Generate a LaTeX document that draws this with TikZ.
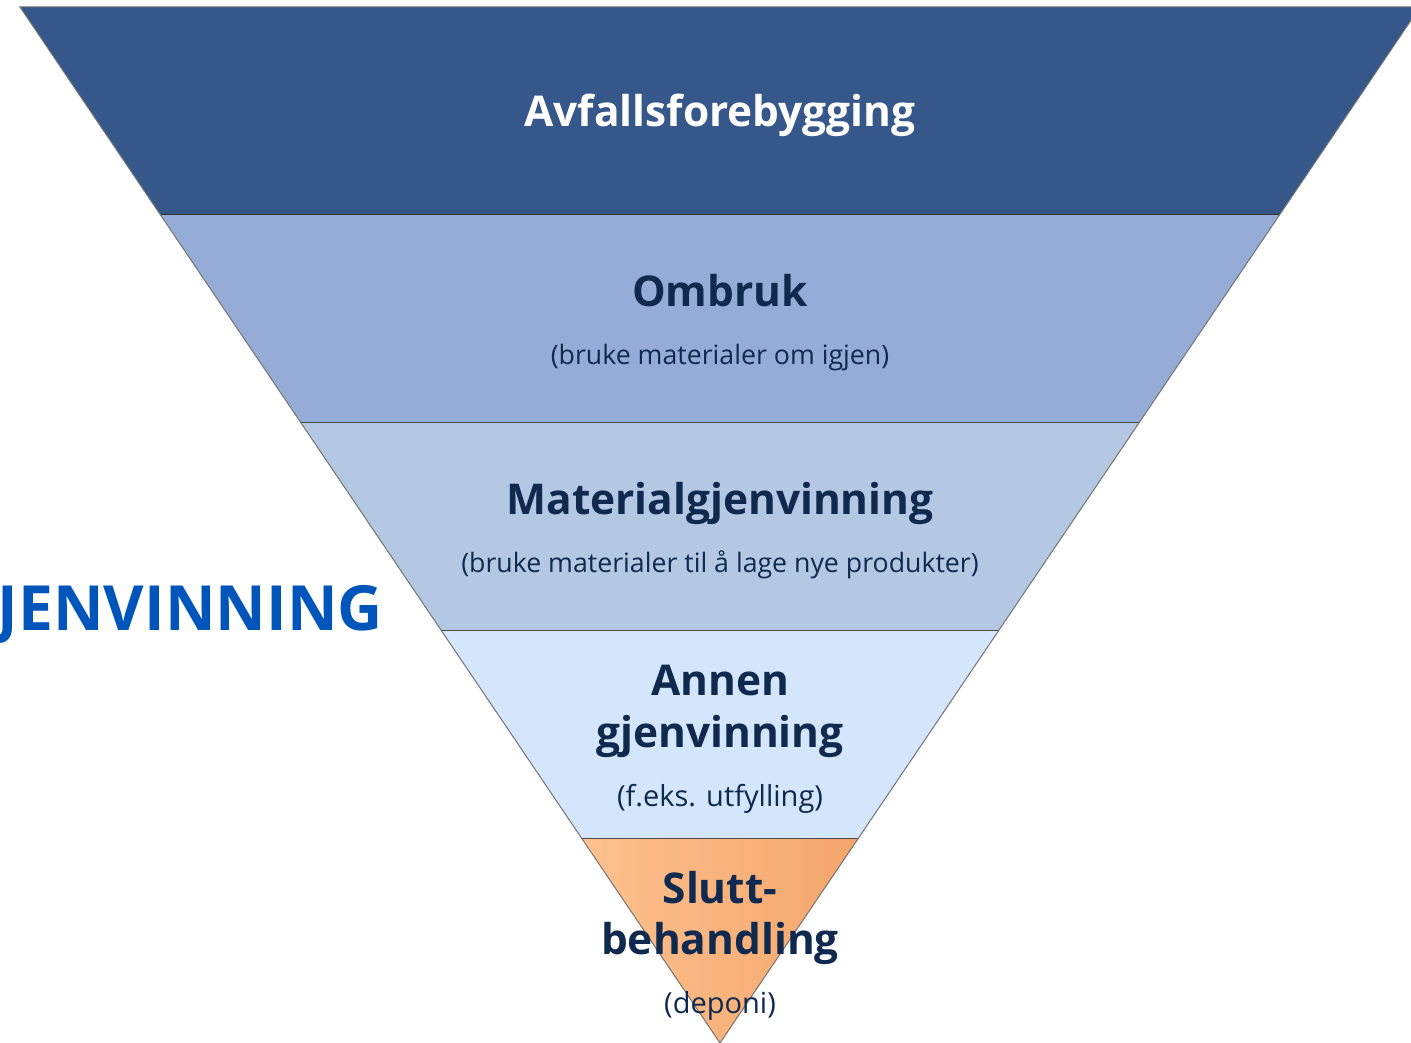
\documentclass[tikz,border=0pt]{standalone}
\usepackage{fontspec}
\setmainfont{Open Sans}
\definecolor{bandA}{HTML}{36578A}
\definecolor{bandB}{HTML}{95ADD6}
\definecolor{bandC}{HTML}{B5C8E3}
\definecolor{bandD}{HTML}{D4E6FC}
\definecolor{orangeTop}{HTML}{FDC18F}
\definecolor{orangeBot}{HTML}{F4A66C}
\definecolor{navy}{HTML}{0F2A4E}
\definecolor{bluetxt}{HTML}{0055BB}
\tikzset{
  band/.style={draw=none},
  divider/.style={draw=black!70, line width=1pt},
  rim/.style={draw=black!55, line width=1pt, line join=miter},
  title/.style={anchor=base, font=\bfseries\fontsize{42.4}{48}\selectfont, text=navy, inner sep=0pt},
  sub/.style={anchor=base, font=\fontsize{26.7}{30}\selectfont, text=navy, inner sep=0pt},
  subbig/.style={sub, font=\fontsize{29}{32}\selectfont},
}
\begin{document}
\begin{tikzpicture}[x=1pt,y=-1pt]
\useasboundingbox (0,0) rectangle (1411,1043);
\begin{scope}
\clip (0,0) rectangle (1411,1043);
\coordinate (L0) at (20,7);      \coordinate (R0) at (1420,7);
\coordinate (L1) at (160.5,215); \coordinate (R1) at (1279.5,215);
\coordinate (L2) at (300.4,422); \coordinate (R2) at (1139.6,422);
\coordinate (L3) at (440.9,630); \coordinate (R3) at (999.1,630);
\coordinate (L4) at (581.5,838); \coordinate (R4) at (858.5,838);
\coordinate (T) at (720,1043);
\fill[bandA] (L0) -- (R0) -- (R1) -- (L1) -- cycle;
\fill[bandB] (L1) -- (R1) -- (R2) -- (L2) -- cycle;
\fill[bandC] (L2) -- (R2) -- (R3) -- (L3) -- cycle;
\fill[bandD] (L3) -- (R3) -- (R4) -- (L4) -- cycle;
\shade[shading angle=120, left color=orangeTop, right color=orangeBot] (L4) -- (R4) -- (T) -- cycle;
\draw[divider, draw=black!80] (L1) -- (R1);
\draw[divider] (L2) -- (R2);
\draw[divider] (L3) -- (R3);
\draw[divider] (L4) -- (R4);
\draw[rim] (T) -- (L0) -- (R0) -- cycle;
\node[title, text=white] (avf) at (720,127) {Avfallsforebygging};
\node[title] (omb) at (720,306) {Ombruk};
\node[sub] (ombs) at (720,364) {(bruke materialer om igjen)};
\node[title] (mat) at (720,514) {Materialgjenvinning};
\node[sub] (mats) at (720,572) {(bruke materialer til å lage nye produkter)};
\node[title] (ann1) at (720,695) {Annen};
\node[title] (ann2) at (720,747) {gjenvinning};
\node[subbig] (anns) at (720,806) {(f.eks. utfylling)};
\node[title] (slu1) at (720,903) {Slutt-};
\node[title] (slu2) at (720,954) {behandling};
\node[subbig] (slus) at (720,1013) {(deponi)};
\node[anchor=base east, inner sep=0pt, font=\bfseries\fontsize{62.3}{70}\selectfont, text=bluetxt] (gjen) at (383,630) {GJENVINNING};
\end{scope}
\end{tikzpicture}
\end{document}
